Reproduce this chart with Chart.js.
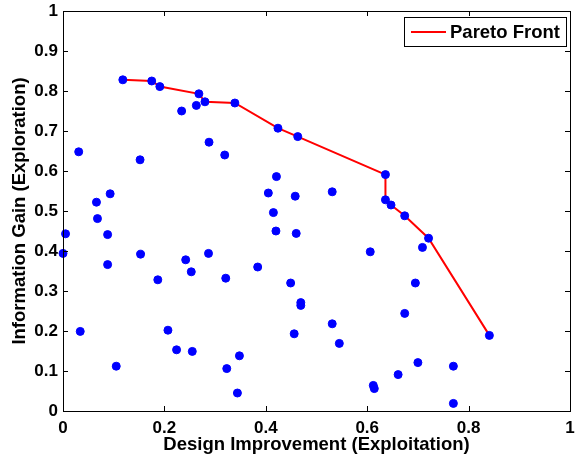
<!DOCTYPE html>
<html><head><meta charset="utf-8">
<script src="https://cdn.jsdelivr.net/npm/chart.js@4"></script>
<style>html,body{margin:0;padding:0;background:#fff}#w{width:576px;height:460px}</style>
</head><body><div id="w"><canvas id="c" width="576" height="460"></canvas></div>
<script>
const paretoX = [0.118,0.175,0.191,0.268,0.280,0.339,0.424,0.463,0.636,0.636,0.647,0.674,0.721,0.841];
const paretoY = [0.828,0.825,0.811,0.793,0.773,0.770,0.707,0.686,0.591,0.528,0.515,0.488,0.432,0.189];
const otherX = [0.234,0.263,0.288,0.319,0.031,0.152,0.066,0.093,0.068,0.405,0.421,0.415,0.458,0.531,
  0.005,0.000,0.088,0.088,0.153,0.187,0.242,0.253,0.287,0.321,0.384,0.420,0.460,0.449,0.469,0.469,0.456,
  0.034,0.207,0.224,0.255,0.105,0.323,0.348,0.344,
  0.606,0.709,0.695,0.674,0.531,0.545,0.700,0.770,0.661,0.612,0.614,0.770];
const otherY = [0.750,0.764,0.672,0.640,0.648,0.628,0.522,0.543,0.481,0.545,0.586,0.496,0.537,0.548,
  0.443,0.394,0.441,0.366,0.392,0.328,0.378,0.348,0.394,0.332,0.360,0.450,0.444,0.320,0.271,0.264,0.193,
  0.199,0.202,0.153,0.149,0.112,0.106,0.138,0.045,
  0.398,0.409,0.320,0.244,0.218,0.169,0.121,0.112,0.091,0.064,0.056,0.019];
const xTicks = [0,0.2,0.4,0.6,0.8,1];
const yTicks = [0,0.1,0.2,0.3,0.4,0.5,0.6,0.7,0.8,0.9,1];
const xTitle = 'Design Improvement (Exploitation)';
const yTitle = 'Information Gain (Exploration)';
const legendLabel = 'Pareto Front';

const allPts = paretoX.map((x,i)=>({x:x,y:paretoY[i]})).concat(otherX.map((x,i)=>({x:x,y:otherY[i]})));
const frontPts = paretoX.map((x,i)=>({x:x,y:paretoY[i]}));
const FONT = "'Liberation Sans', Arial, sans-serif";
const fmt = v => v===0?'0':(v===1?'1':String(v));

const framePlugin = {
  id:'frame',
  afterDraw(chart){
    const ctx = chart.ctx, a = chart.chartArea;
    const xs = chart.scales.x, ys = chart.scales.y;
    ctx.save();
    ctx.strokeStyle = '#000'; ctx.lineWidth = 1;
    ctx.strokeRect(a.left+0.5, a.top+0.5, a.right-a.left, a.bottom-a.top);
    ctx.beginPath();
    const L = 5;
    xTicks.forEach(v=>{ const p = Math.round(xs.getPixelForValue(v))+0.5;
      ctx.moveTo(p,a.bottom); ctx.lineTo(p,a.bottom-L);
      ctx.moveTo(p,a.top); ctx.lineTo(p,a.top+L); });
    yTicks.forEach(v=>{ const p = Math.round(ys.getPixelForValue(v))+0.5;
      ctx.moveTo(a.left,p); ctx.lineTo(a.left+L,p);
      ctx.moveTo(a.right,p); ctx.lineTo(a.right-L,p); });
    ctx.stroke();
    // legend
    const bx = 404, by = 17, bw = 162, bh = 29;
    ctx.fillStyle = '#fff'; ctx.fillRect(bx,by,bw,bh);
    ctx.strokeRect(bx+0.5,by+0.5,bw,bh);
    ctx.strokeStyle = '#ff0000'; ctx.lineWidth = 2;
    ctx.beginPath(); ctx.moveTo(411,by+bh/2+0.5); ctx.lineTo(446,by+bh/2+0.5); ctx.stroke();
    ctx.fillStyle = '#000'; ctx.font = "bold 18.5px "+FONT; ctx.textBaseline='middle'; ctx.textAlign='left';
    ctx.fillText(legendLabel, 450, by+bh/2+1);
    ctx.restore();
  }
};

new Chart(document.getElementById('c'), {
  type:'scatter',
  data:{datasets:[
    {label:legendLabel, data:frontPts, type:'line', showLine:true, borderColor:'#ff0000', borderWidth:2,
     pointRadius:0, fill:false, tension:0, order:2, clip:false},
    {label:'points', data:allPts, backgroundColor:'#0000ff', borderColor:'#0000ff', pointRadius:4,
     pointHoverRadius:4, order:1, clip:false}
  ]},
  options:{
    responsive:false, animation:false, devicePixelRatio:1,
    layout:{padding:{top:11,right:6,left:0,bottom:0}},
    plugins:{legend:{display:false}, tooltip:{enabled:false}},
    scales:{
      x:{type:'linear', min:0, max:1,
        afterBuildTicks:s=>{s.ticks = xTicks.map(v=>({value:v}));},
        afterFit:s=>{s.height = 49; s.paddingLeft = 0; s.paddingRight = 0;},
        grid:{display:false, drawTicks:false}, border:{display:true,color:'#000'},
        ticks:{color:'#000', font:{family:FONT, size:17, weight:'bold'}, padding:7, callback:fmt, maxRotation:0},
        title:{display:true, text:xTitle, color:'#000', font:{family:FONT, size:18.5, weight:'bold'}, padding:{top:0,bottom:4}}
      },
      y:{type:'linear', min:0, max:1,
        afterBuildTicks:s=>{s.ticks = yTicks.map(v=>({value:v}));},
        afterFit:s=>{s.width = 63; s.paddingTop = 0; s.paddingBottom = 0;},
        grid:{display:false, drawTicks:false}, border:{display:true,color:'#000'},
        ticks:{color:'#000', font:{family:FONT, size:17, weight:'bold'}, padding:5, callback:fmt},
        title:{display:true, text:yTitle, color:'#000', font:{family:FONT, size:18.5, weight:'bold'}, padding:{top:9,bottom:0}}
      }
    }
  },
  plugins:[framePlugin]
});
</script></body></html>
